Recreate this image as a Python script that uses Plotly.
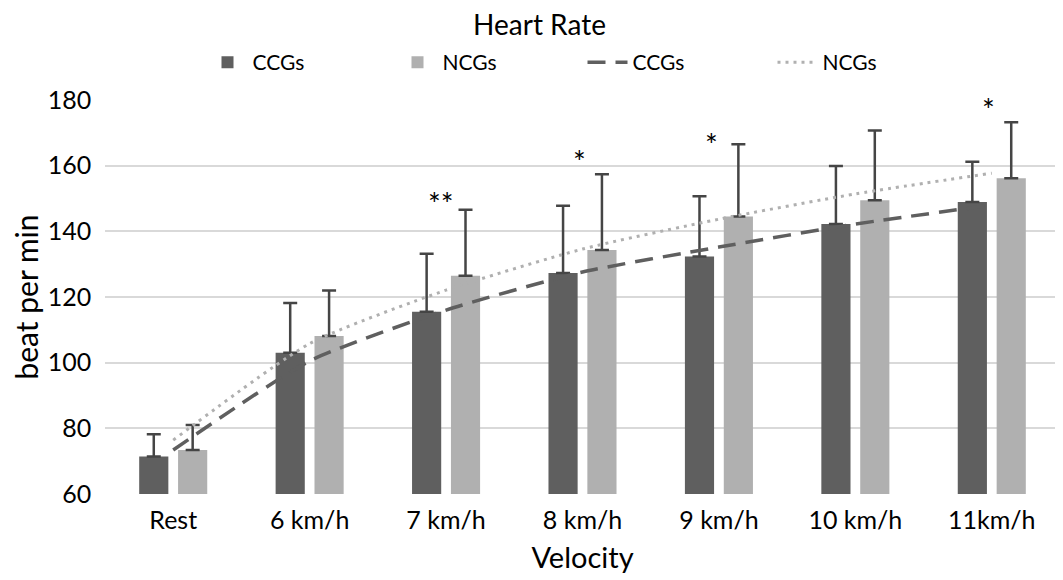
import plotly.graph_objects as go

categories = ["Rest", "6 km/h", "7 km/h", "8 km/h", "9 km/h", "10 km/h", "11km/h"]

ccg_mean = [71.4, 103.0, 115.5, 127.3, 132.3, 142.2, 148.9]
ccg_upper = [78.2, 118.2, 133.2, 147.8, 150.7, 159.9, 161.2]
ncg_mean = [73.4, 108.1, 126.5, 134.3, 144.5, 149.5, 156.2]
ncg_upper = [81.0, 122.0, 146.6, 157.4, 166.5, 170.7, 173.2]

# trend lines at each category
ccg_trend = [73.4, 100.5, 116.0, 127.6, 135.2, 142.2, 148.0]
ncg_trend = [76.4, 105.8, 122.1, 134.6, 143.7, 151.4, 157.7]

# significance marks
sig_cats = ["7 km/h", "8 km/h", "9 km/h", "11km/h"]
sig_text = ["**", "*", "*", "*"]
sig_y = [148.6, 161.5, 166.7, 177.4]
sig_dx = [-5, -3, -7, -3]

FONT = "Lato"
DARK = "#5f5f5f"
LIGHT = "#b0b0b0"

fig = go.Figure()

fig.add_trace(go.Bar(
    x=categories, y=ccg_mean, name="CCGs", marker=dict(color=DARK, line=dict(width=0)),
    error_y=dict(type="data", symmetric=False,
                 array=[u - m for u, m in zip(ccg_upper, ccg_mean)],
                 arrayminus=[0] * len(ccg_mean),
                 color="#454545", thickness=2.5, width=7),
))
fig.add_trace(go.Bar(
    x=categories, y=ncg_mean, name="NCGs", marker=dict(color=LIGHT, line=dict(width=0)),
    error_y=dict(type="data", symmetric=False,
                 array=[u - m for u, m in zip(ncg_upper, ncg_mean)],
                 arrayminus=[0] * len(ncg_mean),
                 color="#454545", thickness=2.5, width=7),
))
fig.add_trace(go.Scatter(
    x=categories, y=ccg_trend, name="CCGs", mode="lines",
    line=dict(color=DARK, width=3.5, dash="18px,10px", shape="spline", smoothing=0.6),
))
fig.add_trace(go.Scatter(
    x=categories, y=ncg_trend, name="NCGs", mode="lines",
    line=dict(color=LIGHT, width=3, dash="3px,5px", shape="spline", smoothing=0.6),
))

for c, t, y, dx in zip(sig_cats, sig_text, sig_y, sig_dx):
    fig.add_annotation(x=c, y=y, text=t, showarrow=False, xshift=dx,
                       font=dict(family=FONT, size=30, color="black"))

fig.update_layout(
    width=1063, height=580,
    paper_bgcolor="white", plot_bgcolor="white",
    font=dict(family=FONT, color="#262626"),
    title=dict(text="Heart Rate", x=0.5, xanchor="center", y=0.97, yanchor="middle",
               font=dict(size=28, color="black")),
    margin=dict(l=97, r=11, t=92, b=94, autoexpand=False),
    barmode="group", bargap=0.43, bargroupgap=0.25,
    showlegend=True,
    legend=dict(orientation="h", x=0.5, xanchor="center", y=1.095, yanchor="middle",
                font=dict(size=21, color="black"), itemwidth=40,
                entrywidth=135, entrywidthmode="pixels"),
    xaxis=dict(title=dict(text="Velocity", font=dict(size=29, color="black"), standoff=14),
               tickfont=dict(size=25, color="black"), showgrid=False, ticklabelstandoff=9,
               showline=False, ticks="", automargin=False),
    yaxis=dict(title=dict(text="beat per min", font=dict(size=30, color="black"), standoff=24),
               range=[60, 180], dtick=20, tickfont=dict(size=25, color="black"),
               gridcolor="#d9d9d9", gridwidth=2, zeroline=False, showline=False,
               ticks="", ticksuffix="  ", automargin=False),
)

fig.write_html("out.html")
